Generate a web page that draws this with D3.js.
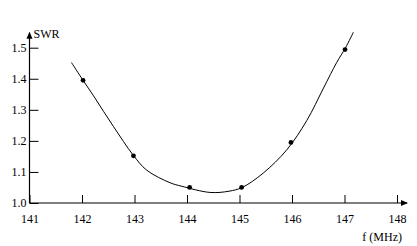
<!DOCTYPE html>
<html>
<head>
<meta charset="utf-8">
<script src="https://cdn.jsdelivr.net/npm/d3@7"></script>
<style>
  body { margin: 0; background: #fff; }
</style>
</head>
<body>
<div id="chart"></div>
<script>
// measured points
var freqPoints = [142.02, 142.98, 144.05, 145.04, 145.98, 147.01];
var swrPoints = [1.395, 1.152, 1.050, 1.050, 1.195, 1.494];

// fitted curve
var curveF = [141.80, 142.02, 142.22, 142.41, 142.60, 142.79, 142.98, 143.23, 143.68, 143.90,
    144.44, 144.80, 145.05, 145.45, 145.90, 146.28, 146.60, 146.85, 147.02, 147.17];
var curveSWR = [1.452, 1.395, 1.345, 1.295, 1.246, 1.198, 1.153, 1.106, 1.065, 1.054,
    1.034, 1.038, 1.050, 1.096, 1.171, 1.265, 1.370, 1.452, 1.500, 1.550];

var xTicks = [141, 142, 143, 144, 145, 146, 147, 148];
var yTicks = [1.0, 1.1, 1.2, 1.3, 1.4, 1.5];

var FONT = "'Liberation Serif', 'DejaVu Serif', serif";

var margin = { top: 47.7, right: 20, bottom: 43, left: 29.5 },
    W = 417, H = 246,
    width = 397 - margin.left,
    height = 203 - margin.top;

var svg = d3.select("#chart")
    .append("svg")
    .attr("width", W)
    .attr("height", H);

var g = svg.append("g")
    .attr("transform", "translate(" + margin.left + "," + margin.top + ")");

var x = d3.scaleLinear().domain([141, 148]).range([0, width]);
var y = d3.scaleLinear().domain([1.0, 1.5]).range([height, 0]);

// X axis, ticks point up into the plot
var xAxis = g.append("g")
    .attr("transform", "translate(0," + height + ")")
    .call(d3.axisBottom(x).tickValues(xTicks).tickFormat(d3.format("d"))
        .tickSizeInner(-8).tickSizeOuter(0).tickPadding(11));
xAxis.select(".domain").remove();

// Y axis, ticks point right
var yAxis = g.append("g")
    .call(d3.axisLeft(y).tickValues(yTicks).tickFormat(d3.format(".1f"))
        .tickSizeInner(-9).tickSizeOuter(0).tickPadding(3));
yAxis.select(".domain").remove();

g.selectAll(".tick line").attr("stroke", "#000");
xAxis.attr("font-family", FONT).attr("font-size", 12);
yAxis.attr("font-family", FONT).attr("font-size", 12);

// axis lines with arrow heads
var xEnd = x(148) + 10, yTop = y(1.5) - 15;
g.append("line").attr("x1", 0).attr("x2", xEnd).attr("y1", height).attr("y2", height)
    .attr("stroke", "#000").attr("stroke-width", 1.2);
g.append("line").attr("x1", 0).attr("x2", 0).attr("y1", height).attr("y2", yTop)
    .attr("stroke", "#000").attr("stroke-width", 1.2);
g.append("path")
    .attr("d", "M" + (xEnd + 1) + "," + height + "l-7,-3l0,6z")
    .attr("fill", "#000");
g.append("path")
    .attr("d", "M0," + (yTop - 1) + "l-3,7l6,0z")
    .attr("fill", "#000");

// axis titles
g.append("text")
    .attr("x", 4).attr("y", yTop + 5)
    .attr("font-family", FONT).attr("font-size", 12)
    .text("SWR");
g.append("text")
    .attr("x", x(148) + 5).attr("y", height + 38)
    .attr("text-anchor", "end")
    .attr("font-family", FONT).attr("font-size", 12)
    .text("f (MHz)");

// fitted curve
var line = d3.line()
    .x(function (d, i) { return x(curveF[i]); })
    .y(function (d, i) { return y(curveSWR[i]); })
    .curve(d3.curveCatmullRom);

g.append("path")
    .datum(curveF)
    .attr("d", line)
    .attr("fill", "none")
    .attr("stroke", "#000")
    .attr("stroke-width", 1);

// measured points
g.selectAll("circle")
    .data(freqPoints)
    .enter()
    .append("circle")
    .attr("cx", function (d) { return x(d); })
    .attr("cy", function (d, i) { return y(swrPoints[i]); })
    .attr("r", 2.4)
    .attr("fill", "#000");
</script>
</body>
</html>
